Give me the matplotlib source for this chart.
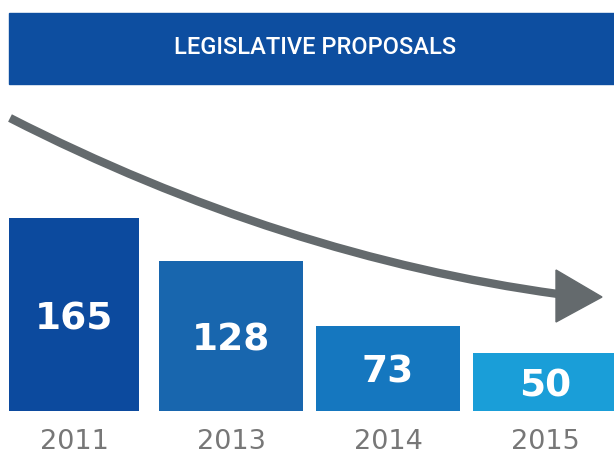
import matplotlib
matplotlib.use("Agg")
import matplotlib.pyplot as plt
from matplotlib.patches import Rectangle, PathPatch, Polygon
from matplotlib.path import Path

# data
years = ["2011", "2013", "2014", "2015"]
proposals = [165, 128, 73, 50]
bar_colors = ["#0c4a9e", "#1866ae", "#1577bf", "#1a9ed8"]
title = "LEGISLATIVE PROPOSALS"

W, H = 614, 454
fig = plt.figure(figsize=(W / 100, H / 100), dpi=100)
fig.patch.set_facecolor("white")


def px(x, y):
    # pixel position (from top-left) -> figure fraction
    return x / W, 1 - y / H


# axes over the whole figure, bars positioned via data limits
ax = fig.add_axes([0, 0, 1, 1])
ax.set_axis_off()
step = 157.0
first = 74.0
ax.set_xlim(-first / step, (W - first) / step)
ax.set_ylim(-(H - 411) / 1.17, 411 / 1.17)

xs = range(len(years))
widths = [0.83, 0.92, 0.92, 0.92]
ax.bar(xs, proposals, width=widths, color=bar_colors, zorder=2)

for x, v, yr in zip(xs, proposals, years):
    ax.text(x, v / 2 - 4, str(v), ha="center", va="center",
            color="white", fontsize=27, fontweight="bold",
            family="DejaVu Sans", zorder=3)
    ax.text(x, -26.5, yr, ha="center", va="center",
            color="#777777", fontsize=19.5, family="DejaVu Sans")

# header band
x0, y0 = px(9, 84)
x1, y1 = px(614, 13)
fig.patches.append(Rectangle((x0, y0), x1 - x0, y1 - y0,
                             transform=fig.transFigure, color="#0d4ea0",
                             zorder=1))
fig.text(*px(315, 47), title, ha="center", va="center", color="white",
         fontsize=17, fontweight="medium", family="Roboto")

# curved arrow
gray = "#646a6d"
pts = [px(10, 118), px(190, 210), px(376, 269), px(558, 294)]
curve = Path(pts, [Path.MOVETO, Path.CURVE4, Path.CURVE4, Path.CURVE4])
fig.patches.append(PathPatch(curve, transform=fig.transFigure,
                             facecolor="none", edgecolor=gray, lw=6,
                             capstyle="butt", zorder=4))
fig.patches.append(Polygon([px(556, 270), px(602, 297), px(556, 322)],
                           closed=True, transform=fig.transFigure,
                           color=gray, zorder=4))

fig.savefig("out.png", dpi=100)
